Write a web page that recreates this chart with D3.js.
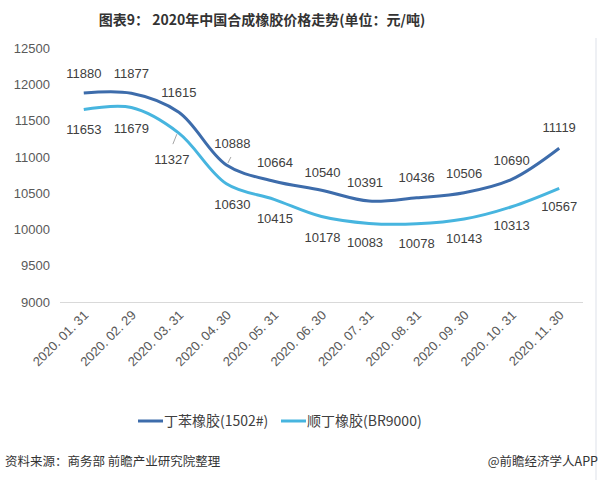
<!DOCTYPE html>
<html><head><meta charset="utf-8">
<script src="https://cdn.jsdelivr.net/npm/d3@7"></script>
<style>body{margin:0;background:#fff;}svg{display:block;font-family:"Noto Sans CJK SC","Microsoft YaHei",sans-serif;}</style>
</head><body>
<svg id="c" width="600" height="480"></svg>
<script>
const categories = ["2020. 01. 31","2020. 02. 29","2020. 03. 31","2020. 04. 30","2020. 05. 31","2020. 06. 30","2020. 07. 31","2020. 08. 31","2020. 09. 30","2020. 10. 31","2020. 11. 30"];
const sbr = [11880,11877,11615,10888,10664,10540,10391,10436,10506,10690,11119];
const br = [11653,11679,11327,10630,10415,10178,10083,10078,10143,10313,10567];
const seriesNames = ["丁苯橡胶(1502#)","顺丁橡胶(BR9000)"];
const yTicks = [9000,9500,10000,10500,11000,11500,12000,12500];
const colors = ["#3d6cab","#47b5df"];

const svg = d3.select("#c");
const L = 60, R = 583, T = 48, B = 302;
const x = d3.scalePoint().domain(categories).range([L, R]).padding(0.5);
const y = d3.scaleLinear().domain([9000,12500]).range([B, T]);

// right faint border
svg.append("line").attr("x1",596).attr("x2",596).attr("y1",38).attr("y2",480).attr("stroke","#eef0f4").attr("stroke-width",2);

svg.append("text").attr("x",262).attr("y",25).attr("text-anchor","middle")
  .attr("font-size",14).attr("font-weight","bold").attr("fill","#333")
  .text("图表9： 2020年中国合成橡胶价格走势(单位：元/吨)");

// y axis labels
const yAxis = d3.axisLeft(y).tickValues(yTicks).tickSize(0).tickPadding(0).tickFormat(d3.format("d"));
const ya = svg.append("g").attr("transform",`translate(50,0)`).call(yAxis);
ya.select(".domain").remove();
ya.selectAll("text").attr("font-size",13).attr("fill","#595959").attr("font-family","Arial, 'Liberation Sans', sans-serif");

// baseline
const xAxis = d3.axisBottom(x).tickSize(0).tickPadding(0);
const xa = svg.append("g").attr("transform",`translate(0,${B})`).call(xAxis);
xa.select(".domain").attr("stroke","#d9d9d9").attr("stroke-width",1).attr("d",`M${L},0.5H${R}`);
xa.selectAll("text").attr("font-size",13).attr("fill","#595959").attr("font-family","Arial, 'Liberation Sans', sans-serif")
  .attr("text-anchor","end").attr("dy",0).attr("y",0)
  .attr("transform","translate(5,14) rotate(-45)");

const line = d3.line().x((d,i)=>x(categories[i])).y(d=>y(d)).curve(d3.curveCatmullRom.alpha(0.5));
[sbr, br].forEach((s,k)=>{
  svg.append("path").datum(s).attr("d",line).attr("fill","none").attr("stroke",colors[k]).attr("stroke-width",3);
});

// labels
const lblFont = "Arial, 'Liberation Sans', sans-serif";
const sbrOff = [[0,-20],[0,-20],[0,-20],[6,-22],[1,-19],[1,-18],[-4,-19],[0,-21],[0,-20],[0,-19],[0,-21]];
const brOff = [[0,20],[0,20],[-7,26],[6,20],[1,19],[1,20],[-4,19],[0,19],[0,19],[0,18],[0,18]];
function labels(s, off){
  svg.append("g").selectAll("text").data(s).join("text")
    .attr("x",(d,i)=>x(categories[i])+off[i][0])
    .attr("y",(d,i)=>y(d)+off[i][1]+5)
    .attr("text-anchor","middle").attr("font-size",13).attr("fill","#404040").attr("font-family",lblFont)
    .text(d=>d);
}
labels(sbr, sbrOff);
labels(br, brOff);
// leader lines
svg.append("line").attr("x1",x(categories[3])+1.5).attr("y1",y(sbr[3])-2).attr("x2",x(categories[3])+4.5).attr("y2",y(sbr[3])-8).attr("stroke","#a6a6a6");
svg.append("line").attr("x1",x(categories[2])-2).attr("y1",y(br[2])+1).attr("x2",x(categories[2])-6).attr("y2",y(br[2])+11).attr("stroke","#a6a6a6");

// legend
const lg = svg.append("g").attr("font-size",14).attr("fill","#404040");
const items = [{x:138, name:seriesNames[0], c:colors[0]},{x:281, name:seriesNames[1], c:colors[1]}];
items.forEach(it=>{
  lg.append("line").attr("x1",it.x).attr("x2",it.x+25).attr("y1",421).attr("y2",421).attr("stroke",it.c).attr("stroke-width",3);
  lg.append("text").attr("x",it.x+26).attr("y",426).attr("fill","#404040").text(it.name);
});

// footer
svg.append("text").attr("x",5).attr("y",466).attr("font-size",12.5).attr("fill","#333").text("资料来源：商务部 前瞻产业研究院整理");
svg.append("text").attr("x",598).attr("y",466).attr("text-anchor","end").attr("font-size",12.5).attr("fill","#333").text("@前瞻经济学人APP");
</script>
</body></html>
